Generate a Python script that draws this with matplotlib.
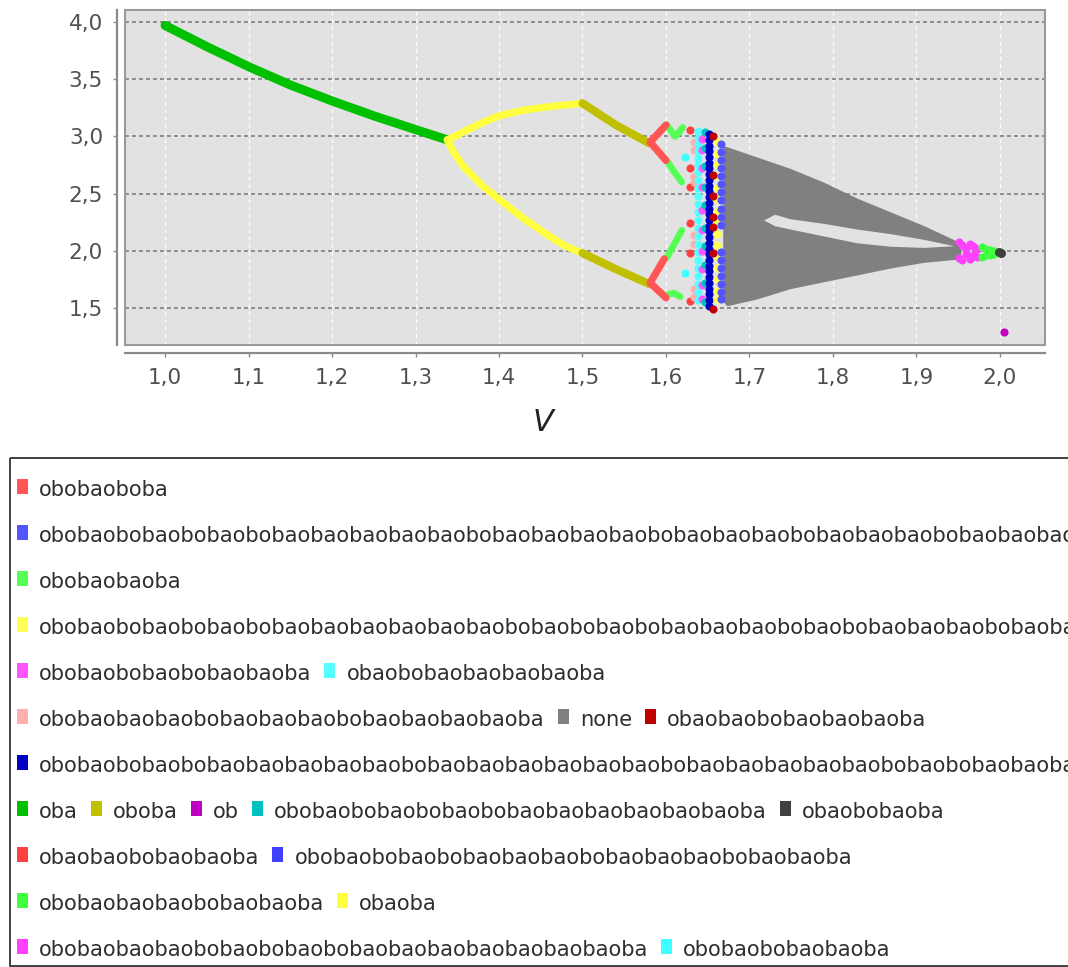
import numpy as np
import matplotlib
matplotlib.use('Agg')
import matplotlib.pyplot as plt
from matplotlib.patches import Rectangle
from matplotlib.ticker import FuncFormatter

nan = np.nan

# ---------------- data ----------------
# period-1 branch "oba"
oba_v = [1.00, 1.05, 1.10, 1.15, 1.20, 1.25, 1.30, 1.338]
oba_y = [3.97, 3.785, 3.61, 3.45, 3.31, 3.18, 3.06, 2.97]

# "obaoba" two branches (nan separates branches)
obaoba_v = [1.338, 1.35, 1.36, 1.38, 1.40, 1.43, 1.46, 1.50,
            nan, 1.338, 1.345, 1.357, 1.38, 1.40, 1.43, 1.46, 1.48, 1.50]
obaoba_y = [2.97, 3.01, 3.05, 3.12, 3.18, 3.23, 3.26, 3.29,
            nan, 2.97, 2.87, 2.74, 2.57, 2.45, 2.28, 2.13, 2.04, 1.98]

# "oboba"
oboba_v = [1.50, 1.54, 1.58, nan, 1.50, 1.54, 1.58]
oboba_y = [3.29, 3.10, 2.94, nan, 1.98, 1.84, 1.71]

# "obobaoboba" (red V shapes)
obobaoboba_v = [1.600, 1.581, 1.600, nan, 1.598, 1.581, 1.600]
obobaoboba_y = [3.10, 2.95, 2.79, nan, 1.93, 1.72, 1.59]

# "obobaobaoba" (green)
obobaobaoba_v = [1.601, 1.606, 1.611, 1.616, 1.620, nan, 1.601, 1.607, 1.613, 1.619,
                 nan, 1.601, 1.607, 1.613, 1.619, nan, 1.603, 1.610, 1.617]
obobaobaoba_y = [3.10, 3.05, 3.00, 3.04, 3.08, nan, 2.79, 2.72, 2.66, 2.60,
                 nan, 1.94, 2.02, 2.10, 2.18, nan, 1.62, 1.63, 1.60]

# cascade columns (V, list of y)
lred_v, lred_y = 1.629, [3.06, 2.72, 2.56, 2.24, 1.98, 1.56]
pink_v, pink_y = 1.633, [2.95, 2.88, 2.65, 2.60, 2.14, 2.06, 1.67, 1.60]
lcyan_v, lcyan_y = 1.623, [2.82, 1.81]
cyan_v, cyan_y = 1.638, [3.05, 2.99, 2.93, 2.87, 2.81, 2.75, 2.69, 2.62, 2.55, 2.48, 2.41, 2.34,
                         2.27, 2.20, 2.13, 2.06, 1.99, 1.92, 1.85, 1.78, 1.71, 1.64, 1.57]
mag_v, mag_y = 1.643, [2.98, 2.88, 2.72, 2.56, 2.36, 2.18, 2.00, 1.84, 1.70, 1.58]
dcyan_v, dcyan_y = 1.647, [3.04, 2.90, 2.74, 2.56, 2.40, 2.20, 2.04, 1.88, 1.72, 1.55]
dblue_v, dblue_y = 1.652, [3.02, 2.97, 2.92, 2.87, 2.82, 2.77, 2.72, 2.67, 2.62, 2.57, 2.52,
                          2.47, 2.42, 2.37, 2.32, 2.27, 2.22, 2.17, 2.12, 2.07, 2.02, 1.97,
                          1.92, 1.87, 1.82, 1.77, 1.72, 1.67, 1.62, 1.57, 1.52]
dred_v, dred_y = 1.656, [3.00, 2.66, 2.48, 2.30, 2.21, 1.98, 1.49]
yel_v, yel_y = 1.661, [2.95, 2.85, 2.75, 2.65, 2.55, 2.45, 2.35, 2.25, 2.15, 2.05, 1.95,
                       1.85, 1.75, 1.65, 1.58]
blue_v, blue_y = 1.666, [2.93, 2.86, 2.79, 2.72, 2.65, 2.58, 2.51, 2.44, 2.37, 2.30, 2.23,
                         1.99, 1.92, 1.85, 1.78, 1.71, 1.64, 1.58]

# chaotic region "none" (envelopes)
chaos_v = [1.668, 1.673, 1.709, 1.749, 1.789, 1.829, 1.869, 1.909, 1.953]
chaos_top = [2.92, 2.91, 2.82, 2.72, 2.60, 2.46, 2.34, 2.22, 2.07]
chaos_bot = [1.56, 1.52, 1.58, 1.67, 1.73, 1.79, 1.85, 1.90, 1.93]
gap_v = [1.717, 1.730, 1.749, 1.789, 1.829, 1.869, 1.909, 1.945]
gap_hi = [2.27, 2.32, 2.28, 2.24, 2.19, 2.15, 2.10, 2.045]
gap_lo = [2.27, 2.22, 2.19, 2.13, 2.07, 2.04, 2.03, 2.045]

# right end windows
lmag_v = [1.951, 1.951, 1.955, 1.955, 1.959, 1.959, 1.964, 1.964, 1.968, 1.968, 1.972, 1.972]
lmag_y = [2.08, 1.94, 2.05, 1.92, 2.02, 1.97, 2.06, 1.93, 2.04, 1.96, 2.02, 1.95]
lgreen_v = [1.978, 1.978, 1.983, 1.983, 1.988, 1.988, 1.993, 1.993]
lgreen_y = [2.03, 1.95, 2.02, 1.96, 2.01, 1.96, 2.00, 1.97]
dgray_v = [1.999, 2.001]
dgray_y = [1.99, 1.98]
ob_v = [2.005]
ob_y = [1.29]

x_ticks = [1.0, 1.1, 1.2, 1.3, 1.4, 1.5, 1.6, 1.7, 1.8, 1.9, 2.0]
y_ticks = [1.5, 2.0, 2.5, 3.0, 3.5, 4.0]

legend_labels = [
    "obobaoboba",
    "obobaobobaobobaobobaobaobaobaobaobobaobaobaobaobobaobaobaobobaobaobaobobaobaobaobobaoba",
    "obobaobaoba",
    "obobaobobaobobaobobaobaobaobaobaobaobobaobobaobobaobaobaobobaobobaobaobaobobaobaoba",
    "obobaobobaobobaobaoba",
    "obaobobaobaobaobaoba",
    "obobaobaobaobobaobaobaobobaobaobaobaoba",
    "none",
    "obaobaobobaobaobaoba",
    "obobaobobaobobaobaobaobaobaobobaobaobaobaobaobaobobaobaobaobaobaobobaobobaobaobaobaoba",
    "oba",
    "oboba",
    "ob",
    "obobaobobaobobaobobaobaobaobaobaobaoba",
    "obaobobaoba",
    "obaobaobobaobaoba",
    "obobaobobaobobaobaobaobobaobaobaobobaobaoba",
    "obobaobaobaobobaobaoba",
    "obaoba",
    "obobaobaobaobobaobobaobobaobaobaobaobaobaobaoba",
    "obobaobobaobaoba",
]
legend_colors = [
    "#FF5555", "#5555FF", "#55FF55", "#FFFF55", "#FF55FF", "#55FFFF", "#FFAFAF",
    "#808080", "#C00000", "#0000C0", "#00C000", "#C0C000", "#C000C0", "#00C0C0",
    "#404040", "#FF4040", "#4040FF", "#40FF40", "#FFFF40", "#FF40FF", "#40FFFF",
]
legend_rows = [[0], [1], [2], [3], [4, 5], [6, 7, 8], [9], [10, 11, 12, 13, 14],
               [15, 16], [17, 18], [19, 20]]

col = dict(zip(legend_labels, legend_colors))

# ---------------- figure ----------------
W, H = 1068, 967
fig = plt.figure(figsize=(W / 100, H / 100), dpi=100)
fig.patch.set_facecolor('white')

ax = fig.add_axes([125 / W, 1 - 345 / H, 920 / W, 335 / H])
ax.set_facecolor('#e2e2e2')
ax.set_xlim(0.952, 2.054)
ax.set_ylim(1.177, 4.105)

ax.set_xticks(x_ticks)
ax.set_yticks(y_ticks)
fmt = FuncFormatter(lambda v, p: f"{v:.1f}".replace('.', ','))
ax.xaxis.set_major_formatter(fmt)
ax.yaxis.set_major_formatter(fmt)

ax.yaxis.grid(True, color='#8c8c8c', linestyle=(0, (2, 1.6)), linewidth=1.4, zorder=0)
ax.xaxis.grid(True, color='white', linestyle=(0, (3, 3)), linewidth=0.9, zorder=0)
ax.set_axisbelow(True)

for s in ['top', 'right']:
    ax.spines[s].set_visible(False)
for s in ['left', 'bottom']:
    ax.spines[s].set_position(('outward', 5.8))
    ax.spines[s].set_color('#8a8a8a')
    ax.spines[s].set_linewidth(1.6)
ax.add_patch(Rectangle((0, 0), 1, 1, transform=ax.transAxes, fill=False,
                       edgecolor='#9a9a9a', linewidth=1.5, clip_on=False, zorder=5))

ax.tick_params(axis='both', direction='out', length=3, width=1.0, color='#8a8a8a',
               labelsize=15.5, labelcolor='#505050')
ax.tick_params(axis='y', pad=7)
ax.tick_params(axis='x', pad=8)

ax.set_xlabel('V', fontsize=22, style='italic', color='#222222')
ax.xaxis.set_label_coords((543 - 125) / 920, -0.188)

# chaotic band
ax.fill_between(chaos_v, chaos_bot, chaos_top, color=col['none'], lw=0, zorder=2)
ax.fill_between(gap_v, gap_lo, gap_hi, color='#e2e2e2', lw=0, zorder=2.1)

# continuous branches
ax.plot(oba_v, oba_y, color=col['oba'], lw=6.5, solid_capstyle='round',
        solid_joinstyle='round', zorder=3)
ax.plot(obaoba_v, obaoba_y, color=col['obaoba'], lw=5.2, solid_capstyle='round',
        solid_joinstyle='round', zorder=3)
ax.plot(oboba_v, oboba_y, color=col['oboba'], lw=5.8, solid_capstyle='round',
        solid_joinstyle='round', zorder=3.1)
ax.plot(obobaoboba_v, obobaoboba_y, color=col['obobaoboba'], lw=5.2,
        solid_capstyle='round', solid_joinstyle='round', zorder=3.2)
ax.plot(obobaobaoba_v, obobaobaoba_y, color=col['obobaobaoba'], lw=4.8,
        solid_capstyle='round', solid_joinstyle='round', zorder=3.1)

# cascade columns
S = 34
def column(v, ys, c, z=4):
    ax.scatter([v] * len(ys), ys, s=S, color=c, linewidths=0, zorder=z)

column(lcyan_v, lcyan_y, col['obobaobobaobaoba'])
column(lred_v, lred_y, col['obaobaobobaobaoba'])
column(pink_v, pink_y, col['obobaobaobaobobaobaobaobobaobaobaobaoba'])
column(cyan_v, cyan_y, col['obaobobaobaobaobaoba'])
column(mag_v, mag_y, col['obobaobobaobobaobaoba'])
column(dcyan_v, dcyan_y, col['obobaobobaobobaobobaobaobaobaobaobaoba'])
column(dblue_v, dblue_y, legend_colors[9])
column(dred_v, dred_y, col['obaobaobobaobaobaoba'], z=4.2)
column(yel_v, yel_y, legend_colors[3])
column(blue_v, blue_y, legend_colors[1])

ax.scatter(lmag_v, lmag_y, s=S, color=legend_colors[19], linewidths=0, zorder=4)
ax.scatter(lgreen_v, lgreen_y, s=S, color=legend_colors[17], linewidths=0, zorder=4)
ax.scatter(dgray_v, dgray_y, s=S + 8, color=col['obaobobaoba'], linewidths=0, zorder=4)
ax.scatter(ob_v, ob_y, s=S, color=col['ob'], linewidths=0, zorder=4)

# ---------------- legend (flow rows, pixel coordinates) ----------------
lax = fig.add_axes([0, 0, 1, 1])
lax.set_xlim(0, W)
lax.set_ylim(H, 0)
lax.axis('off')
lax.add_patch(Rectangle((10, 458), 1200, 508, fill=False, edgecolor='#333333',
                        linewidth=1.3, clip_on=False))

renderer = fig.canvas.get_renderer()
probe = lax.text(0, 0, legend_labels[0], fontsize=10, family='DejaVu Sans')
w10 = probe.get_window_extent(renderer).width
probe.remove()
leg_fs = 10 * 131 / w10

row0, row_step = 486, 46
for r, items in enumerate(legend_rows):
    yc = row0 + r * row_step
    x = 17
    for idx in items:
        lax.add_patch(Rectangle((x, yc - 7.5), 11, 15, facecolor=legend_colors[idx],
                                edgecolor='none'))
        t = lax.text(x + 22, yc + 9.5, legend_labels[idx], fontsize=leg_fs,
                     family='DejaVu Sans', color='#2e2e2e', va='baseline', ha='left')
        w = t.get_window_extent(renderer).width
        x = x + 22 + w + 13

fig.savefig('out.png', dpi=100)
